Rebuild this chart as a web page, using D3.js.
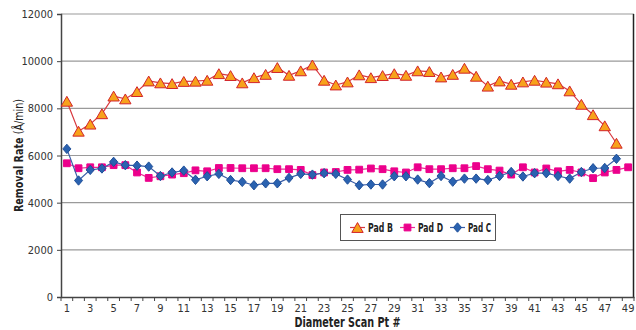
<!DOCTYPE html>
<html>
<head>
<meta charset="utf-8">
<script src="https://cdn.jsdelivr.net/npm/d3@7"></script>
<style>
  html, body { margin: 0; padding: 0; background: #fff; }
  svg { display: block; }
  text { font-family: "DejaVu Sans Condensed", "Liberation Sans", sans-serif; fill: #222; }
</style>
</head>
<body>
<svg id="chart" width="636" height="330"></svg>
<script>
// Scan point numbers along the wafer diameter
const scanPoints = d3.range(1, 50);

// Removal rate (Å/min) per scan point
const padB = [8300, 7030, 7330, 7770, 8520, 8400, 8710, 9160, 9080, 9050,
              9140, 9150, 9190, 9470, 9390, 9080, 9300, 9440, 9730, 9400,
              9590, 9840, 9190, 8990, 9120, 9420, 9300, 9390, 9470, 9400,
              9590, 9560, 9330, 9440, 9700, 9360, 8940, 9160, 9020, 9120,
              9190, 9110, 9040, 8740, 8170, 7730, 7260, 6520];
const padD = [5670, 5460, 5500, 5500, 5590, 5590, 5280, 5050, 5120, 5190,
              5250, 5370, 5330, 5470, 5470, 5460, 5460, 5460, 5420, 5420,
              5390, 5170, 5280, 5300, 5390, 5400, 5450, 5420, 5330, 5280,
              5500, 5420, 5420, 5460, 5460, 5550, 5420, 5360, 5190, 5500,
              5280, 5450, 5330, 5390, 5280, 5040, 5280, 5390, 5500];
const padC = [6280, 4940, 5390, 5450, 5730, 5590, 5570, 5530, 5130, 5280,
              5360, 4970, 5120, 5220, 4960, 4880, 4740, 4820, 4820, 5050,
              5220, 5190, 5250, 5220, 4980, 4740, 4770, 4770, 5120, 5120,
              4980, 4830, 5130, 4890, 5020, 5020, 4960, 5130, 5300, 5110,
              5250, 5250, 5130, 5020, 5300, 5460, 5470, 5860];

const yTicks = [0, 2000, 4000, 6000, 8000, 10000, 12000];
const xTickLabels = scanPoints.filter(d => d % 2 === 1);

// Triangle whose bounding box is centred on the data point
const symbolTriangleBox = {
  draw(ctx, size) {
    const s = Math.sqrt(size * 4 / Math.sqrt(3));
    const h = s * Math.sqrt(3) / 2;
    ctx.moveTo(0, -h / 2);
    ctx.lineTo(s / 2, h / 2);
    ctx.lineTo(-s / 2, h / 2);
    ctx.closePath();
  }
};

// Rotated-square diamond, slightly taller than wide
const symbolRhomb = {
  draw(ctx, size) {
    const r = Math.sqrt(size / 2);
    const w = r * 0.9, h = r * 1.05;
    ctx.moveTo(0, -h);
    ctx.lineTo(w, 0);
    ctx.lineTo(0, h);
    ctx.lineTo(-w, 0);
    ctx.closePath();
  }
};

const series = [
  { name: "Pad B", values: padB, line: "#d8383e", fill: "#f7a21b", stroke: "#d2232a", shape: symbolTriangleBox, size: 56, textLen: 25 },
  { name: "Pad D", values: padD, line: "#ec2a94", fill: "#ec008c", stroke: "#ec008c", shape: d3.symbolSquare, size: 46, textLen: 25 },
  { name: "Pad C", values: padC, line: "#3a5ea8", fill: "#2a62b0", stroke: "#1f4f99", shape: symbolRhomb, size: 40, textLen: 23 }
];

const svg = d3.select("#chart");
const m = { left: 61, right: 2, top: 14, bottom: 33 };
const W = 636, H = 330;

const x = d3.scaleBand().domain(scanPoints).range([m.left, W - m.right]).padding(0);
const y = d3.scaleLinear().domain([0, 12000]).range([H - m.bottom, m.top]);
const cx = d => x(d) + x.bandwidth() / 2;

// Horizontal gridlines
svg.append("g")
  .selectAll("line")
  .data(yTicks.filter(t => t > 0))
  .join("line")
  .attr("x1", m.left).attr("x2", W - m.right)
  .attr("y1", d => y(d)).attr("y2", d => y(d))
  .attr("stroke", "#9a9a9a").attr("stroke-width", 1.2);

// Right border of the plot area
svg.append("line")
  .attr("x1", W - m.right - 0.5).attr("x2", W - m.right - 0.5)
  .attr("y1", y(12000)).attr("y2", y(0))
  .attr("stroke", "#222").attr("stroke-width", 1.5);

// Y axis
const yAxis = svg.append("g")
  .attr("transform", `translate(${m.left},0)`)
  .call(d3.axisLeft(y).tickValues(yTicks).tickSize(4).tickPadding(4).tickFormat(d3.format("d")));
yAxis.select(".domain").attr("stroke", "#444").attr("stroke-width", 1.5);
yAxis.selectAll(".tick line").attr("stroke", "#444");
yAxis.selectAll("text").attr("font-size", 11).style("fill", "#333")
  .style("font-family", '"DejaVu Sans Condensed", sans-serif');

// X axis: labels on odd scan points, ticks at every band edge
const xAxis = svg.append("g")
  .attr("transform", `translate(0,${y(0)})`)
  .call(d3.axisBottom(x).tickValues(xTickLabels).tickSize(0).tickPadding(7));
xAxis.select(".domain").attr("stroke", "#444").attr("stroke-width", 1.5);
xAxis.selectAll("text").attr("font-size", 11).style("fill", "#333")
  .style("font-family", '"DejaVu Sans Condensed", sans-serif');
xAxis.append("g")
  .selectAll("line")
  .data(scanPoints.concat([null]))
  .join("line")
  .attr("x1", (d, i) => m.left + i * x.step())
  .attr("x2", (d, i) => m.left + i * x.step())
  .attr("y1", 0).attr("y2", 4)
  .attr("stroke", "#444");

// Axis titles
svg.append("text")
  .attr("x", (m.left + W - m.right) / 2).attr("y", 327)
  .attr("text-anchor", "middle")
  .attr("font-size", 13.5).attr("font-weight", "bold")
  .attr("textLength", 106).attr("lengthAdjust", "spacingAndGlyphs")
  .text("Diameter Scan Pt #");

const yTitle = svg.append("text")
  .attr("transform", `translate(23,${(y(0) + y(12000)) / 2}) rotate(-90)`)
  .attr("text-anchor", "middle")
  .attr("font-size", 13)
  .attr("textLength", 113).attr("lengthAdjust", "spacingAndGlyphs");
yTitle.append("tspan").attr("font-weight", "bold").text("Removal Rate ");
yTitle.append("tspan").attr("font-weight", "normal").text("(Å/min)");

// Series lines and markers
const line = d3.line().x((d, i) => cx(scanPoints[i])).y(d => y(d));
series.forEach(s => {
  const g = svg.append("g");
  g.append("path")
    .datum(s.values)
    .attr("d", line)
    .attr("fill", "none")
    .attr("stroke", s.line)
    .attr("stroke-width", 1.2);
  g.selectAll("path.mk")
    .data(s.values)
    .join("path")
    .attr("class", "mk")
    .attr("transform", (d, i) => `translate(${cx(scanPoints[i])},${y(d)})`)
    .attr("d", d3.symbol().type(s.shape).size(s.size))
    .attr("fill", s.fill)
    .attr("stroke", s.stroke)
    .attr("stroke-width", 1);
});

// Legend
const lg = svg.append("g").attr("transform", "translate(340,214)");
lg.append("rect")
  .attr("x", 0.5).attr("y", 0.5).attr("width", 155).attr("height", 26)
  .attr("fill", "#fff").attr("stroke", "#555").attr("stroke-width", 1);
const itemX = [10, 60, 110];
series.forEach((s, i) => {
  const it = lg.append("g").attr("transform", `translate(${itemX[i]},13.5)`);
  it.append("line").attr("x1", 0).attr("x2", 15).attr("y1", 0).attr("y2", 0)
    .attr("stroke", s.line).attr("stroke-width", 1.2);
  it.append("path")
    .attr("transform", "translate(7.5,0)")
    .attr("d", d3.symbol().type(s.shape).size(s.size))
    .attr("fill", s.fill).attr("stroke", s.stroke).attr("stroke-width", 1);
  it.append("text")
    .attr("x", 18).attr("y", 4.5)
    .attr("font-size", 12).attr("font-weight", "bold")
    .attr("textLength", s.textLen).attr("lengthAdjust", "spacingAndGlyphs")
    .text(s.name);
});
</script>
</body>
</html>
